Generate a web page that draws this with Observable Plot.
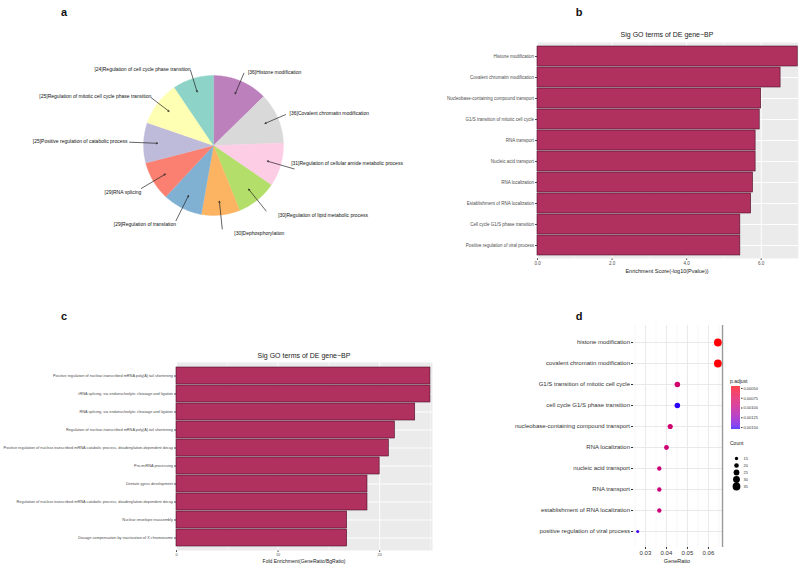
<!DOCTYPE html>
<html><head><meta charset="utf-8">
<script src="https://cdn.jsdelivr.net/npm/d3@7"></script>
<script src="https://cdn.jsdelivr.net/npm/@observablehq/plot@0.6"></script>
<style>
body{margin:0;background:#fff;font-family:"Liberation Sans",Arial,sans-serif;}
#root{position:relative;width:800px;height:567px;overflow:hidden;background:#fff;}
.t{position:absolute;white-space:nowrap;transform:translate(-50%,-50%);line-height:1;}
.letter{font-weight:bold;font-size:11px;color:#111;}
</style></head><body><div id="root"></div>
<script>
// ---------- data ----------
const pieTerms = ["Histone modification","Covalent chromatin modification","Regulation of cellular amide metabolic process","Regulation of lipid metabolic process","Dephosphorylation","Regulation of translation","RNA splicing","Positive regulation of catabolic process","Regulation of mitotic cell cycle phase transition","Regulation of cell cycle phase transition"];
// numbers printed in the labels
const pieCounts = [36,36,31,30,30,29,29,25,25,24];
// slice sizes as drawn in the picture (degrees of arc)
const pieSliceSizes = [45.6,42.4,36.4,33.6,32,33,32.5,33.5,37,34];
const pieColors = ["#BC80BD","#D9D9D9","#FCCDE5","#B3DE69","#FDB462","#80B1D3","#FB8072","#BEBADA","#FFFFB3","#8DD3C7"];

const bTerms = ["Histone modification","Covalent chromatin modification","Nucleobase-containing compound transport","G1/S transition of mitotic cell cycle","RNA transport","Nucleic acid transport","RNA localization","Establishment of RNA localization","Cell cycle G1/S phase transition","Positive regulation of viral process"];
const bScores = [6.98,6.52,6.0,5.96,5.85,5.85,5.78,5.73,5.44,5.44];
const bTicks = [0,2,4,6];

const cTerms = ["Positive regulation of nuclear-transcribed mRNA poly(A) tail shortening","tRNA splicing, via endonucleolytic cleavage and ligation","RNA splicing, via endonucleolytic cleavage and ligation","Regulation of nuclear-transcribed mRNA poly(A) tail shortening","Positive regulation of nuclear-transcribed mRNA catabolic process, deadenylation-dependent decay","Pre-miRNA processing","Dentate gyrus development","Regulation of nuclear-transcribed mRNA catabolic process, deadenylation-dependent decay","Nuclear envelope reassembly","Dosage compensation by inactivation of X chromosome"];
const cFold = [25.0,25.0,23.5,21.5,20.9,20.0,18.8,18.8,16.8,16.8];
const cTicks = [0,10,20];

const dTerms = ["histone modification","covalent chromatin modification","G1/S transition of mitotic cell cycle","cell cycle G1/S phase transition","nucleobase-containing compound transport","RNA localization","nucleic acid transport","RNA transport","establishment of RNA localization","positive regulation of viral process"];
const dGeneRatio = [0.0645,0.0645,0.0452,0.0452,0.0418,0.0400,0.0366,0.0366,0.0366,0.0263];
const dCount = [35,35,24,24,22,21,19,19,19,14];
const dPadj = [0.00046,0.00046,0.00086,0.00153,0.00088,0.00090,0.00092,0.00092,0.00092,0.00150];
const dXTicks = [0.03,0.04,0.05,0.06];
const padjTicks = [0.0005,0.00075,0.001,0.00125,0.0015];
const countTicks = [15,20,25,30,35];

// ---------- helpers ----------
const root = document.getElementById("root");
function put(node, left, top){ node.style.position="absolute"; node.style.left=left+"px"; node.style.top=top+"px"; root.appendChild(node); return node; }
function txt(s, x, y, css){ const d=document.createElement("div"); d.className="t"; d.textContent=s; d.style.left=x+"px"; d.style.top=y+"px"; Object.assign(d.style, css||{}); root.appendChild(d); return d; }
const FONT = "Liberation Sans, Arial, sans-serif";

// ---------- panel a: pie ----------
{
  const cx=213, cy=145, R=70, W=430, H=240, L=0, T=30;
  const arcs = d3.pie().sort(null).value(d=>d)(pieSliceSizes);
  const polys = arcs.map(a=>{
    const n=Math.max(2,Math.ceil((a.endAngle-a.startAngle)/0.02));
    const pts=[{x:0,y:0}];
    for(let k=0;k<=n;k++){const t=a.startAngle+(a.endAngle-a.startAngle)*k/n; pts.push({x:Math.sin(t),y:Math.cos(t)});}
    return pts;
  });
  const labs = arcs.map((a,i)=>{
    const m=(a.startAngle+a.endAngle)/2, sx=Math.sin(m), sy=Math.cos(m);
    const anchor = sx>0.15 ? "start" : (sx<-0.15 ? "end" : "start");
    const group = sy>0.3 ? "high" : (sy<-0.3 ? "low" : "mid");
    const rr = group==="high" ? 1.12 : 1.2;
    return {text:`[${pieCounts[i]}]${pieTerms[i]}`, sx, sy, anchor, group, rr};
  });
  const offs = {
    "high-start":[4,-1], "high-end":[0,-1],
    "mid-start":[-3,-6], "mid-end":[-2,-1],
    "low-start":[12,4], "low-end":[0,4]
  };
  const textMarks = Object.entries(offs).map(([key,[dx,dy]])=>{
    const [g,anchor]=key.split("-");
    return Plot.text(labs.filter(d=>d.group===g && d.anchor===anchor), {
      x:d=>d.rr*d.sx, y:d=>d.rr*d.sy, text:"text", textAnchor:anchor, dx, dy, fill:"#111", fontSize:5
    });
  });
  const pie = Plot.plot({
    width:W, height:H, margin:0,
    x:{domain:[(L-cx)/R,(L+W-cx)/R], axis:null},
    y:{domain:[-(T+H-cy)/R,(cy-T)/R], axis:null},
    style:{fontFamily:FONT, background:"transparent"},
    marks:[
      ...polys.map((p,i)=>Plot.line(p,{x:"x",y:"y",fill:pieColors[i],stroke:pieColors[i],strokeWidth:0.3,curve:"linear-closed"})),
      Plot.arrow(labs,{x1:d=>d.rr*d.sx,y1:d=>d.rr*d.sy,x2:d=>0.8*d.sx,y2:d=>0.8*d.sy,stroke:"#222",strokeWidth:0.7,headLength:3}),
      ...textMarks
    ]
  });
  put(pie, L, T);
}

// ---------- panel b ----------
{
  const data = bTerms.map((t,i)=>({term:t, score:bScores[i]}));
  const p = Plot.plot({
    width:380, height:252, marginLeft:117, marginRight:2, marginTop:14, marginBottom:22,
    x:{domain:[0,7.0], ticks:bTicks, label:null, tickSize:2, tickPadding:1},
    y:{domain:bTerms, label:null, padding:0.07, tickSize:2, tickPadding:1.5},
    style:{fontSize:"4.5px", fontFamily:FONT, color:"#4d4d4d", background:"transparent"},
    marks:[
      Plot.frame({fill:"#EBEBEB", stroke:"none"}),
      Plot.gridX([1,3,5,7],{stroke:"white",strokeOpacity:1,strokeWidth:0.4}),
      Plot.gridX(bTicks,{stroke:"white",strokeOpacity:1,strokeWidth:0.9}),
      Plot.gridY({stroke:"white",strokeOpacity:1,strokeWidth:0.9}),
      Plot.barX(data,{x:"score",y:"term",fill:"#B0305E",stroke:"#4a1028",strokeWidth:0.6})
    ]
  });
  put(p, 420, 28);
  txt("Sig GO terms of DE gene\u2212BP", 667, 34, {fontSize:"7px", color:"#222"});
  txt("Enrichment Score(-log10(Pvalue))", 667, 272, {fontSize:"5.5px", color:"#222"});
}

// ---------- panel c ----------
{
  const data = cTerms.map((t,i)=>({term:t, fold:cFold[i]}));
  const p = Plot.plot({
    width:440, height:222, marginLeft:176, marginRight:8, marginTop:17, marginBottom:17,
    x:{domain:[0,25.2], ticks:cTicks, label:null, tickSize:2, tickPadding:1},
    y:{domain:cTerms, label:null, padding:0.07, tickSize:2, tickPadding:1.5},
    style:{fontSize:"3.85px", fontFamily:FONT, color:"#4d4d4d", background:"transparent"},
    marks:[
      Plot.frame({fill:"#EBEBEB", stroke:"none"}),
      Plot.gridX([5,15,25],{stroke:"white",strokeOpacity:1,strokeWidth:0.4}),
      Plot.gridX(cTicks,{stroke:"white",strokeOpacity:1,strokeWidth:0.9}),
      Plot.gridY({stroke:"white",strokeOpacity:1,strokeWidth:0.9}),
      Plot.barX(data,{x:"fold",y:"term",fill:"#B0305E",stroke:"#4a1028",strokeWidth:0.6})
    ]
  });
  put(p, 0, 345);
  txt("Sig GO terms of DE gene\u2212BP", 304, 355, {fontSize:"7px", color:"#222"});
  txt("Fold Enrichment(GeneRatio/BgRatio)", 304, 561, {fontSize:"5px", color:"#222"});
}

// ---------- panel d ----------
const colorScale = {type:"linear", domain:[0.00045,0.00155], range:["red","blue"], interpolate:"lab"};
const rScale = {type:"sqrt", domain:[14,35], range:[1.5,3.9]};
{
  const data = dTerms.map((t,i)=>({term:t, ratio:dGeneRatio[i], count:dCount[i], padj:dPadj[i]}));
  const xDom = [0.0243,0.0667];
  const p = Plot.plot({
    width:330, height:252, marginLeft:163, marginRight:78, marginTop:10, marginBottom:20,
    x:{domain:xDom, ticks:dXTicks, tickFormat:d=>d.toFixed(2), label:null, tickSize:2, tickPadding:1.5},
    y:{type:"point", domain:dTerms, padding:0.64, label:null, tickSize:2, tickPadding:1.5},
    color:colorScale, r:rScale,
    style:{fontSize:"6px", fontFamily:FONT, color:"#333", background:"transparent"},
    marks:[
      Plot.gridX([0.025,0.035,0.045,0.055,0.065],{stroke:"#EEEEEE",strokeOpacity:1,strokeWidth:0.5}),
      Plot.gridX(dXTicks,{stroke:"#E6E6E6",strokeOpacity:1,strokeWidth:0.9}),
      Plot.gridY({stroke:"#E6E6E6",strokeOpacity:1,strokeWidth:0.9}),
      Plot.ruleX([xDom[1]],{stroke:"#999",strokeWidth:1.4}),
      Plot.dot(data,{x:"ratio",y:"term",r:"count",fill:"padj",stroke:"none"})
    ]
  });
  put(p, 470, 315);
  txt("GeneRatio", 677, 562, {fontSize:"5.5px", color:"#222"});

  // colour legend
  const steps = d3.range(0.00045,0.00155,0.00001);
  const cl = Plot.plot({
    width:40, height:50, marginLeft:3, marginRight:28, marginTop:3, marginBottom:4,
    x:{domain:[0,1], axis:null},
    y:{domain:[0.00045,0.00155], reverse:true, ticks:padjTicks, tickFormat:d=>d.toFixed(5), label:null},
    color:colorScale,
    style:{fontSize:"4px", fontFamily:FONT, color:"#333", background:"transparent"},
    marks:[
      Plot.rect(steps,{x1:0,x2:1,y1:d=>d,y2:d=>d+0.0000105,fill:d=>d}),
      Plot.axisY(padjTicks,{anchor:"right", tickSize:1.5, tickPadding:1.5, tickFormat:d=>d.toFixed(5), label:null})
    ]
  });
  put(cl, 728, 383);
  txt("p.adjust", 730, 381, {fontSize:"5px", color:"#222", transform:"translate(0,-50%)"});

  // size legend
  const sl = Plot.plot({
    width:40, height:52, marginLeft:0, marginRight:0, marginTop:6, marginBottom:7,
    x:{domain:[0,1], axis:null},
    y:{type:"point", domain:countTicks, axis:null},
    r:rScale,
    style:{fontSize:"4px", fontFamily:FONT, color:"#333", background:"transparent"},
    marks:[
      Plot.dot(countTicks,{x:()=>0,y:d=>d,r:d=>d,fill:"black",dx:8}),
      Plot.text(countTicks,{x:()=>0,y:d=>d,text:d=>String(d),dx:15,textAnchor:"start",fill:"#333"})
    ]
  });
  put(sl, 728, 446);
  txt("Count", 730, 443, {fontSize:"5px", color:"#222", transform:"translate(0,-50%)"});
}

// ---------- panel letters ----------
txt("a", 64, 12, {}).className="t letter";
txt("b", 579, 12, {}).className="t letter";
txt("c", 64, 316, {}).className="t letter";
txt("d", 579, 316, {}).className="t letter";
</script></body></html>
